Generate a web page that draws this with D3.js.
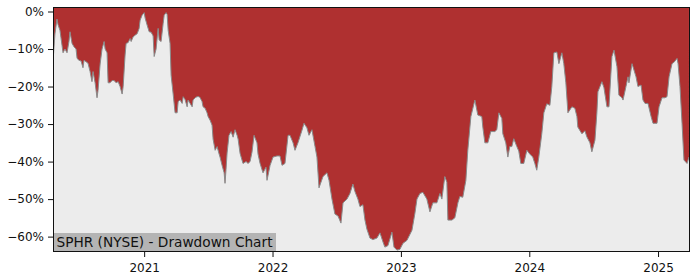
<!DOCTYPE html>
<html>
<head>
<meta charset="utf-8">
<script src="https://cdn.jsdelivr.net/npm/d3@7/dist/d3.min.js"></script>
<style>
  body { margin: 0; background: #fff; }
  text { font-family: "DejaVu Sans", sans-serif; }
</style>
</head>
<body>
<div id="chart"></div>
<script>
// dates as decimal years, drawdown in %
const dates = [
  2020.292, 2020.307, 2020.323, 2020.331, 2020.346, 2020.354, 2020.362, 2020.370, 2020.385, 2020.401,
  2020.416, 2020.424, 2020.440, 2020.455, 2020.471, 2020.479, 2020.494, 2020.510, 2020.525, 2020.533,
  2020.549, 2020.564, 2020.580, 2020.595, 2020.603, 2020.619, 2020.634, 2020.642, 2020.658, 2020.673,
  2020.689, 2020.697, 2020.712, 2020.720, 2020.735, 2020.751, 2020.767, 2020.782, 2020.798, 2020.813,
  2020.829, 2020.837, 2020.852, 2020.860, 2020.875, 2020.891, 2020.899, 2020.914, 2020.930, 2020.946,
  2020.961, 2020.969, 2020.984, 2021.000, 2021.008, 2021.023, 2021.039, 2021.054, 2021.070, 2021.078,
  2021.093, 2021.109, 2021.117, 2021.132, 2021.148, 2021.156, 2021.171, 2021.179, 2021.187, 2021.202,
  2021.210, 2021.226, 2021.241, 2021.257, 2021.265, 2021.280, 2021.296, 2021.304, 2021.319, 2021.335,
  2021.342, 2021.358, 2021.374, 2021.381, 2021.397, 2021.412, 2021.428, 2021.436, 2021.451, 2021.459,
  2021.475, 2021.490, 2021.498, 2021.514, 2021.529, 2021.537, 2021.553, 2021.568, 2021.584, 2021.591,
  2021.607, 2021.623, 2021.630, 2021.638, 2021.646, 2021.661, 2021.677, 2021.693, 2021.708, 2021.724,
  2021.732, 2021.747, 2021.770, 2021.794, 2021.809, 2021.825, 2021.840, 2021.856, 2021.879, 2021.887,
  2021.903, 2021.926, 2021.949, 2021.957, 2021.981, 2022.004, 2022.035, 2022.058, 2022.074, 2022.097,
  2022.121, 2022.136, 2022.160, 2022.175, 2022.198, 2022.230, 2022.245, 2022.268, 2022.284, 2022.307,
  2022.331, 2022.346, 2022.362, 2022.393, 2022.424, 2022.440, 2022.463, 2022.486, 2022.510, 2022.533,
  2022.549, 2022.580, 2022.603, 2022.626, 2022.642, 2022.665, 2022.681, 2022.704, 2022.720, 2022.735,
  2022.759, 2022.782, 2022.813, 2022.837, 2022.860, 2022.875, 2022.899, 2022.930, 2022.946, 2022.969,
  2022.992, 2023.016, 2023.047, 2023.086, 2023.109, 2023.125, 2023.148, 2023.171, 2023.202, 2023.226,
  2023.249, 2023.280, 2023.304, 2023.319, 2023.342, 2023.358, 2023.366, 2023.397, 2023.420, 2023.444,
  2023.459, 2023.482, 2023.506, 2023.521, 2023.545, 2023.576, 2023.599, 2023.630, 2023.638, 2023.654,
  2023.677, 2023.700, 2023.732, 2023.747, 2023.763, 2023.786, 2023.794, 2023.817, 2023.833, 2023.848,
  2023.864, 2023.879, 2023.903, 2023.918, 2023.934, 2023.957, 2023.981, 2024.004, 2024.027, 2024.043,
  2024.058, 2024.074, 2024.097, 2024.113, 2024.136, 2024.160, 2024.175, 2024.191, 2024.214, 2024.230,
  2024.253, 2024.268, 2024.284, 2024.300, 2024.331, 2024.354, 2024.370, 2024.377, 2024.409, 2024.432,
  2024.447, 2024.471, 2024.486, 2024.510, 2024.525, 2024.533, 2024.564, 2024.580, 2024.603, 2024.619,
  2024.634, 2024.642, 2024.658, 2024.681, 2024.696, 2024.720, 2024.728, 2024.751, 2024.767, 2024.774,
  2024.798, 2024.805, 2024.829, 2024.844, 2024.868, 2024.883, 2024.899, 2024.922, 2024.946, 2024.961,
  2024.992, 2025.008, 2025.031, 2025.054, 2025.070, 2025.086, 2025.109, 2025.125, 2025.148, 2025.156,
  2025.171, 2025.187, 2025.202, 2025.226, 2025.241
];
const drawdown = [
  -13.4, -6, -2, -3.5, -5, -7, -9, -11, -10, -11,
  -8, -5.4, -8.5, -9.4, -10, -12.5, -13, -13.2, -15, -13,
  -13.4, -13.8, -16, -18.7, -16, -19, -23, -21, -14, -10,
  -8, -10, -11, -19, -19, -18.4, -18.4, -19, -18.7, -20,
  -22, -20, -11.6, -8.5, -8.3, -7.2, -8, -6.8, -6.3, -5.9,
  -4.5, -2.3, -1, -0.3, -1.8, -3.6, -5.4, -5.5, -6.5, -12,
  -10, -4.5, -7.6, -8, -3.2, -1, -0.3, -0.8, -5, -8.5,
  -17, -22, -27, -27, -24, -23.6, -24.5, -22.7, -23.5, -25.4,
  -23.6, -24.5, -25.4, -23.6, -23, -22.7, -22.7, -23, -24, -25.4,
  -25.8, -27, -28, -29, -30.3, -34, -37, -36, -38, -38.8,
  -41, -43, -45.8, -42, -37.7, -33, -32, -33.5, -31.5, -33,
  -34, -37.8, -40.5, -40, -40.5, -40, -37.5, -33, -35, -38,
  -40.5, -43, -41.5, -45, -41, -38.8, -38.5, -38.5, -41, -40.5,
  -33, -33, -35, -37, -35, -31.6, -29.8, -31, -33, -31.5,
  -36, -38.8, -47, -44, -43, -45, -50, -54, -54.5, -56.4,
  -51, -50, -48.5, -46, -48, -50, -52, -51.5, -55.6, -58,
  -60.4, -60.8, -60.4, -59, -61.4, -62.8, -62.4, -58.8, -62.8, -63.6,
  -63.4, -61.8, -61, -58.3, -53.8, -50, -48.5, -48.2, -50, -53.4,
  -51, -51, -48.5, -50, -44, -45.5, -55.6, -55.6, -55, -51,
  -49.3, -49.5, -45, -37, -28, -23.6, -27.6, -28, -30.8, -35,
  -35, -32, -32, -31.5, -27, -28.5, -32.6, -35, -38.8, -36,
  -36, -33.9, -36, -37.2, -40.5, -40.5, -37, -38, -38.8, -40.5,
  -42.3, -38.8, -32.6, -27, -24.6, -25, -20, -11, -10.8, -13.9,
  -11, -13.9, -19, -27, -25.4, -25.8, -28, -30.8, -32.6, -31.8,
  -33.4, -35, -37.4, -34.3, -27, -21.4, -18.7, -20.3, -25.4, -25.4,
  -16.5, -12, -10.3, -14.7, -22.3, -23, -23.6, -20, -17.4, -19,
  -13.9, -14.7, -17.4, -20, -19.6, -23.6, -24.5, -24.5, -28, -29.8,
  -29.8, -25.4, -23, -23, -22.7, -17.4, -13.9, -13.5, -12.5, -13.9,
  -20, -29.8, -39.6, -40.5, -38.8
];
const yTicks = [0, -10, -20, -30, -40, -50, -60];
const xTicks = [2021, 2022, 2023, 2024, 2025];
const xDomain = [2020.292, 2025.249];
const yDomain = [-64.1, 1.2];
const title = "SPHR (NYSE) - Drawdown Chart";

// decimal year -> Date (UTC)
function toDate(t) {
    const yr = Math.floor(t);
    const a = Date.UTC(yr, 0, 1), b = Date.UTC(yr + 1, 0, 1);
    return new Date(a + (t - yr) * (b - a));
}

const data = dates.map((t, i) => ({ date: toDate(t), dd: drawdown[i] }));

const width = 700, height = 280;
const margin = { top: 7, right: 10, bottom: 28, left: 53 };

const svg = d3.select("#chart")
    .append("svg")
    .attr("width", width)
    .attr("height", height);

const x = d3.scaleUtc()
    .domain(xDomain.map(toDate))
    .range([margin.left, width - margin.right]);

const y = d3.scaleLinear()
    .domain(yDomain)
    .range([height - margin.bottom, margin.top]);

const L = margin.left, R = width - margin.right, T = margin.top, B = height - margin.bottom;

svg.append("clipPath").attr("id", "plot")
    .append("rect")
    .attr("x", L).attr("y", T).attr("width", R - L).attr("height", B - T);

// background below the curve
svg.append("rect")
    .attr("x", L).attr("y", T)
    .attr("width", R - L).attr("height", B - T)
    .attr("fill", "#ececec");

const g = svg.append("g").attr("clip-path", "url(#plot)");

// red area from the top down to the drawdown line
g.append("path")
    .datum(data)
    .attr("fill", "#af3030")
    .attr("d", d3.area()
        .x(d => x(d.date))
        .y0(T)
        .y1(d => y(d.dd)));

g.append("path")
    .datum(data)
    .attr("fill", "none")
    .attr("stroke", "#8a8a8a")
    .attr("stroke-width", 1)
    .attr("d", d3.line()
        .x(d => x(d.date))
        .y(d => y(d.dd)));

// label box at lower left
const label = svg.append("g");
const labelText = label.append("text")
    .attr("x", L + 3.5)
    .attr("y", B - 5)
    .attr("font-size", 13.7)
    .attr("fill", "#111")
    .text(title);
const tw = labelText.node().getComputedTextLength();
label.insert("rect", "text")
    .attr("x", L)
    .attr("y", B - 19)
    .attr("width", tw + 7)
    .attr("height", 19)
    .attr("fill", "#b4b4b4");

// axes
const yAxis = svg.append("g")
    .attr("transform", `translate(${L},0)`)
    .call(d3.axisLeft(y)
        .tickValues(yTicks)
        .tickSize(5)
        .tickPadding(4)
        .tickFormat(d => (d < 0 ? "\u2212" : "") + Math.abs(d) + "%"));

const xAxis = svg.append("g")
    .attr("transform", `translate(0,${B})`)
    .call(d3.axisBottom(x)
        .tickValues(xTicks.map(toDate))
        .tickSize(5)
        .tickPadding(6)
        .tickFormat(d3.utcFormat("%Y")));

[yAxis, xAxis].forEach(ax => {
    ax.select(".domain").remove();
    ax.selectAll("text").attr("font-size", 12).attr("fill", "#111")
        .style("font-family", "'DejaVu Sans', sans-serif");
    ax.selectAll("line").attr("stroke", "#111");
});

// frame
svg.append("rect")
    .attr("x", L + 0.5).attr("y", T + 0.5)
    .attr("width", R - L - 1).attr("height", B - T - 1)
    .attr("fill", "none")
    .attr("stroke", "#111")
    .attr("stroke-width", 1);
</script>
</body>
</html>
